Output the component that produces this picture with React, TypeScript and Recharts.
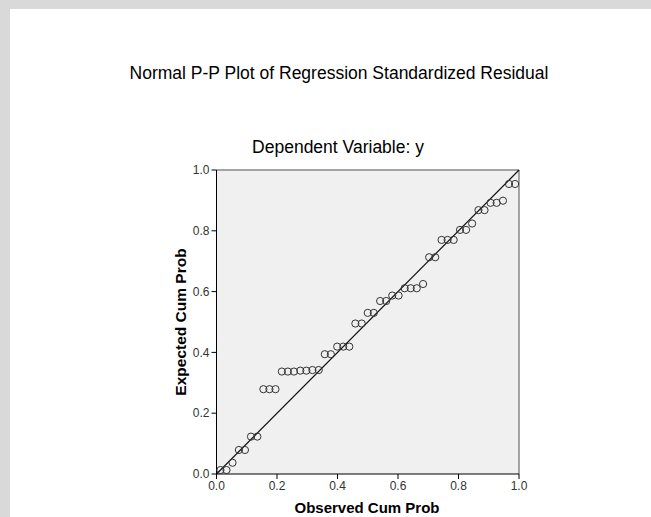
import React from 'react';
import { ScatterChart, Scatter, XAxis, YAxis, CartesianGrid, ReferenceLine } from 'recharts';

const observed = [
  0.013, 0.033, 0.053, 0.074, 0.094, 0.114, 0.135, 0.155, 0.175, 0.195,
  0.216, 0.236, 0.256, 0.277, 0.297, 0.317, 0.338, 0.358, 0.378, 0.399,
  0.419, 0.439, 0.459, 0.48, 0.5, 0.52, 0.541, 0.561, 0.581, 0.602,
  0.622, 0.642, 0.662, 0.683, 0.703, 0.723, 0.744, 0.764, 0.784, 0.805,
  0.825, 0.845, 0.866, 0.886, 0.906, 0.926, 0.947, 0.967, 0.987,
];
const expected = [
  0.013, 0.013, 0.037, 0.079, 0.079, 0.123, 0.123, 0.279, 0.279, 0.279,
  0.337, 0.337, 0.337, 0.34, 0.34, 0.342, 0.342, 0.394, 0.394, 0.419,
  0.419, 0.419, 0.495, 0.495, 0.53, 0.53, 0.569, 0.569, 0.587, 0.587,
  0.611, 0.611, 0.611, 0.625, 0.713, 0.713, 0.77, 0.77, 0.77, 0.803,
  0.803, 0.824, 0.868, 0.868, 0.892, 0.892, 0.899, 0.954, 0.954,
];
const ticks = [0, 0.2, 0.4, 0.6, 0.8, 1.0];

const points = observed.map((x, i) => ({ x, y: expected[i] }));

const font = '"Liberation Sans", Arial, sans-serif';

const OpenCircle = (props: any) => (
  <circle cx={props.cx} cy={props.cy} r={3.6} fill="none" stroke="#333" strokeWidth={1} />
);

export default function App() {
  return (
    <div style={{ position: 'absolute', left: 0, top: 0, width: 651, height: 517, background: '#fff', overflow: 'hidden', fontFamily: font }}>
      {/* gray frame strips */}
      <div style={{ position: 'absolute', left: 0, top: 0, width: 651, height: 9, background: '#d9d9d9' }} />
      <div style={{ position: 'absolute', left: 0, top: 0, width: 10, height: 517, background: '#d9d9d9' }} />

      <ScatterChart width={651} height={517} margin={{ top: 170, right: 132, bottom: 13, left: 186.5 }}>
        <CartesianGrid fill="#f0f0f0" horizontal={false} vertical={false} />
        <XAxis
          type="number"
          dataKey="x"
          domain={[0, 1]}
          ticks={ticks}
          tickFormatter={(v) => v.toFixed(1)}
          height={30}
          stroke="#000"
          tickSize={5}
          tick={{ fontSize: 12, fill: '#333', fontFamily: font }}
        />
        <YAxis
          type="number"
          dataKey="y"
          domain={[0, 1]}
          ticks={ticks}
          tickFormatter={(v) => v.toFixed(1)}
          width={30}
          stroke="#000"
          tickSize={5}
          tick={{ fontSize: 12, fill: '#333', fontFamily: font }}
        />
        <ReferenceLine y={1} stroke="#888" strokeWidth={1.5} />
        <ReferenceLine x={1} stroke="#888" strokeWidth={1.5} />
        <ReferenceLine segment={[{ x: 0, y: 0 }, { x: 1, y: 1 }]} stroke="#111" strokeWidth={1.2} />
        <Scatter data={points} shape={OpenCircle} isAnimationActive={false} />
      </ScatterChart>

      <div style={{ position: 'absolute', left: 339, top: 73, transform: 'translate(-50%, -50%)', fontSize: 17.5, whiteSpace: 'nowrap', color: '#000' }}>
        Normal P-P Plot of Regression Standardized Residual
      </div>
      <div style={{ position: 'absolute', left: 338, top: 147, transform: 'translate(-50%, -50%)', fontSize: 17.5, whiteSpace: 'nowrap', color: '#000' }}>
        Dependent Variable: y
      </div>
      <div style={{ position: 'absolute', left: 181, top: 322, transform: 'translate(-50%, -50%) rotate(-90deg)', fontSize: 15.5, fontWeight: 'bold', whiteSpace: 'nowrap', color: '#000' }}>
        Expected Cum Prob
      </div>
      <div style={{ position: 'absolute', left: 367, top: 507, transform: 'translate(-50%, -50%)', fontSize: 15, fontWeight: 'bold', whiteSpace: 'nowrap', color: '#000' }}>
        Observed Cum Prob
      </div>
    </div>
  );
}
